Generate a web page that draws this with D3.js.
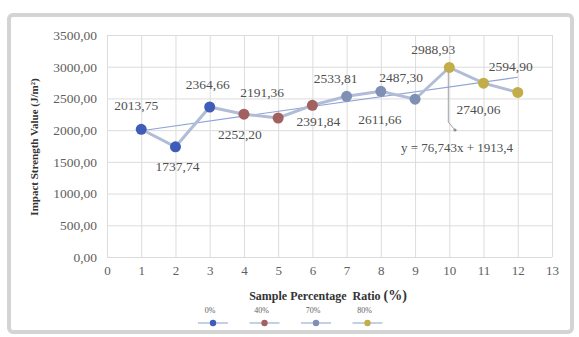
<!DOCTYPE html>
<html>
<head>
  <meta charset="UTF-8">
  <title>Impact Strength</title>
  <script src="https://d3js.org/d3.v7.min.js"></script>
  <style>
    body { margin: 0; background: #fff; }
    svg text { font-family: "Liberation Serif", "Times New Roman", serif; white-space: pre; }
  </style>
</head>
<body>
<div class="chart"></div>
<script>
  // data
  var ratios = [1, 2, 3, 4, 5, 6, 7, 8, 9, 10, 11, 12];
  var impactValues = [2013.75, 1737.74, 2364.66, 2252.20, 2191.36, 2391.84,
                      2533.81, 2611.66, 2487.30, 2988.93, 2740.06, 2594.90];
  var groups = ['0%', '0%', '0%', '40%', '40%', '40%',
                '70%', '70%', '70%', '80%', '80%', '80%'];
  var seriesNames = ['0%', '40%', '70%', '80%'];
  var yTicks = [0, 500, 1000, 1500, 2000, 2500, 3000, 3500];
  var xTicks = [0, 1, 2, 3, 4, 5, 6, 7, 8, 9, 10, 11, 12, 13];
  var trendSlope = 76.743, trendIntercept = 1913.4;
  var trendLabel = 'y = 76,743x + 1913,4';

  // label placement relative to each marker (layout only)
  var labelOffsets = [[-5, -19], [2, 24], [-2, -18], [-4, 25], [-16, -21], [6, 21],
                      [-11, -13], [-1, 33], [-14, -17], [-16, -13], [-5, 31], [-7, -21]];

  var colors = { '0%': '#3f5cb8', '40%': '#a2605f', '70%': '#7f90b4', '80%': '#c2ad48' };

  var W = 579, H = 337;
  var svg = d3.select('.chart').append('svg')
    .attr('width', W).attr('height', H);

  // frame
  svg.append('rect')
    .attr('x', 9).attr('y', 15).attr('width', 563).attr('height', 317)
    .attr('rx', 4)
    .attr('fill', '#fff').attr('stroke', '#d4d4d4').attr('stroke-width', 4);

  var x = d3.scaleLinear().domain([0, 13]).range([107, 552]);
  var y = d3.scaleLinear().domain([0, 3500]).range([257, 35]);

  var fmt = function(v) { return d3.format('.2f')(v).replace('.', ','); };

  // grid
  svg.append('g')
    .attr('transform', 'translate(0,' + y(0) + ')')
    .call(d3.axisBottom(x).tickValues(xTicks).tickSize(-(y(0) - y(3500))).tickFormat(''))
    .call(g => g.select('.domain').remove())
    .call(g => g.selectAll('line').attr('stroke', '#dcdcdc'));
  svg.append('g')
    .attr('transform', 'translate(' + x(0) + ',0)')
    .call(d3.axisLeft(y).tickValues(yTicks).tickSize(-(x(13) - x(0))).tickFormat(''))
    .call(g => g.select('.domain').remove())
    .call(g => g.selectAll('line').attr('stroke', '#dcdcdc'));

  // axes labels
  svg.append('g')
    .attr('transform', 'translate(' + (x(0) - 10) + ',0)')
    .call(d3.axisLeft(y).tickValues(yTicks).tickSize(0).tickPadding(0).tickFormat(fmt))
    .call(g => g.select('.domain').remove())
    .call(g => g.selectAll('text')
      .attr('fill', '#606060').style('font-size', '13.5px')
      .style('font-family', '"Liberation Serif", serif'));

  svg.append('g')
    .attr('transform', 'translate(0,' + (y(0) + 9) + ')')
    .call(d3.axisBottom(x).tickValues(xTicks).tickSize(0).tickPadding(0).tickFormat(d3.format('d')))
    .call(g => g.select('.domain').remove())
    .call(g => g.selectAll('text')
      .attr('fill', '#606060').style('font-size', '13px')
      .style('font-family', '"Liberation Serif", serif'));

  svg.append('text')
    .attr('transform', 'translate(38,147) rotate(-90)')
    .attr('text-anchor', 'middle')
    .attr('fill', '#333')
    .style('font-size', '11px').style('font-weight', 'bold')
    .text('Impact Strength Value (J/m²)');

  var points = ratios.map((r, i) => ({ x: r, v: impactValues[i], g: groups[i], off: labelOffsets[i] }));

  // trendline
  svg.append('line')
    .attr('x1', x(1)).attr('y1', y(trendSlope * 1 + trendIntercept))
    .attr('x2', x(12)).attr('y2', y(trendSlope * 12 + trendIntercept))
    .attr('stroke', '#8fa3d8').attr('stroke-width', 1.2);

  // main line
  svg.append('path')
    .datum(points)
    .attr('d', d3.line().x(d => x(d.x)).y(d => y(d.v)))
    .attr('fill', 'none')
    .attr('stroke', '#b1bcd6').attr('stroke-width', 3);

  // leader line for the trend label
  svg.append('path')
    .attr('d', 'M' + (x(10) - 1) + ',' + (y(2988.93) + 4) + ' V122 L455,130')
    .attr('fill', 'none').attr('stroke', '#a0a0a0').attr('stroke-width', 1);
  svg.append('circle').attr('cx', 455).attr('cy', 130).attr('r', 1.6).attr('fill', '#909090');

  // markers
  svg.selectAll('circle.pt')
    .data(points)
    .enter().append('circle')
    .attr('class', 'pt')
    .attr('cx', d => x(d.x)).attr('cy', d => y(d.v))
    .attr('r', 5.5)
    .attr('fill', d => colors[d.g]);

  // data labels
  svg.selectAll('text.lbl')
    .data(points)
    .enter().append('text')
    .attr('class', 'lbl')
    .attr('x', d => x(d.x) + d.off[0])
    .attr('y', d => y(d.v) + d.off[1])
    .attr('text-anchor', 'middle')
    .attr('fill', '#505050')
    .style('font-size', '13.5px')
    .text(d => fmt(d.v));

  svg.append('text')
    .attr('x', 457).attr('y', 152)
    .attr('text-anchor', 'middle')
    .attr('fill', '#505050')
    .style('font-size', '13px')
    .text(trendLabel);

  // legend
  var legTitle = svg.append('text')
    .attr('x', 328).attr('y', 300)
    .attr('text-anchor', 'middle')
    .attr('fill', '#333')
    .style('font-size', '12px').style('font-weight', 'bold');
  legTitle.append('tspan').text('Sample Percentage  Ratio ');
  legTitle.append('tspan').style('font-size', '14px').text('(%)');

  var leg = svg.selectAll('g.leg')
    .data(seriesNames)
    .enter().append('g')
    .attr('class', 'leg')
    .attr('transform', (d, i) => 'translate(' + (213 + i * 51.5) + ',0)');
  leg.append('text')
    .attr('x', -3).attr('y', 313)
    .attr('text-anchor', 'middle')
    .attr('fill', '#606060')
    .style('font-size', '8px')
    .text(d => d);
  leg.append('line')
    .attr('x1', -15).attr('x2', 15).attr('y1', 323).attr('y2', 323)
    .attr('stroke', '#9fb0d8').attr('stroke-width', 1.2);
  leg.append('circle')
    .attr('cy', 323).attr('r', 3.2)
    .attr('fill', d => colors[d]);
</script>
</body>
</html>
